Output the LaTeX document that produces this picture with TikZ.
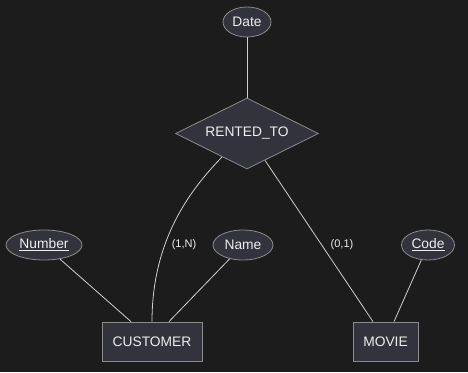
\documentclass[tikz,border=0pt]{standalone}
\usepackage{fontspec}
\setmainfont{Liberation Sans}
\usetikzlibrary{shapes.geometric}
\definecolor{bgc}{HTML}{1C1C1C}
\definecolor{nodefill}{HTML}{32333C}
\definecolor{nodeborder}{HTML}{8C8C8C}
\definecolor{linec}{HTML}{D0D0D0}
\definecolor{textc}{HTML}{EEEEEE}
\begin{document}
\begin{tikzpicture}[x=1pt,y=-1pt,
  base/.style={fill=nodefill,draw=nodeborder,line width=0.8pt,text=textc,font=\fontsize{13.8}{16}\selectfont,inner sep=0pt},
  attr/.style={base,ellipse,minimum height=30pt},
  entity/.style={base,rectangle,minimum height=39pt},
  rel/.style={base,diamond,minimum width=143pt,minimum height=71pt,aspect=2},
  conn/.style={draw=linec,line width=0.8pt},
  card/.style={text=textc,font=\fontsize{11}{13}\selectfont,inner sep=0pt}]
\fill[bgc] (0,0) rectangle (468,372);
\useasboundingbox (0,0) rectangle (468,372);
\node[attr,minimum width=48pt] (date) at (247,22) {Date};
\node[rel] (rt) at (247,133.5) {RENTED\_TO};
\node[attr,minimum width=76pt] (num) at (44,245) {\underline{Number}};
\node[attr,minimum width=60pt] (name) at (243,245) {Name};
\node[attr,minimum width=53pt] (code) at (428,245) {\underline{Code}};
\node[entity,minimum width=100pt] (cust) at (152,341.5) {CUSTOMER};
\node[entity,minimum width=65pt] (movie) at (385.5,341.5) {MOVIE};
\draw[conn] (date) -- (rt.north);
\draw[conn] ([xshift=-25pt,yshift=-23.5pt]rt.center) .. controls (190,190) and (152,240) .. (cust.north);
\draw[conn] (rt) -- ([xshift=-12.5pt]movie.north);
\draw[conn] (num) -- ([xshift=-21pt]cust.north);
\draw[conn] (name) -- ([xshift=17pt]cust.north);
\draw[conn] (code) -- ([xshift=8.5pt]movie.north);
\node[card] (c1) at (184,245) {(1,N)};
\node[card] (c2) at (342,245) {(0,1)};
\end{tikzpicture}
\end{document}
